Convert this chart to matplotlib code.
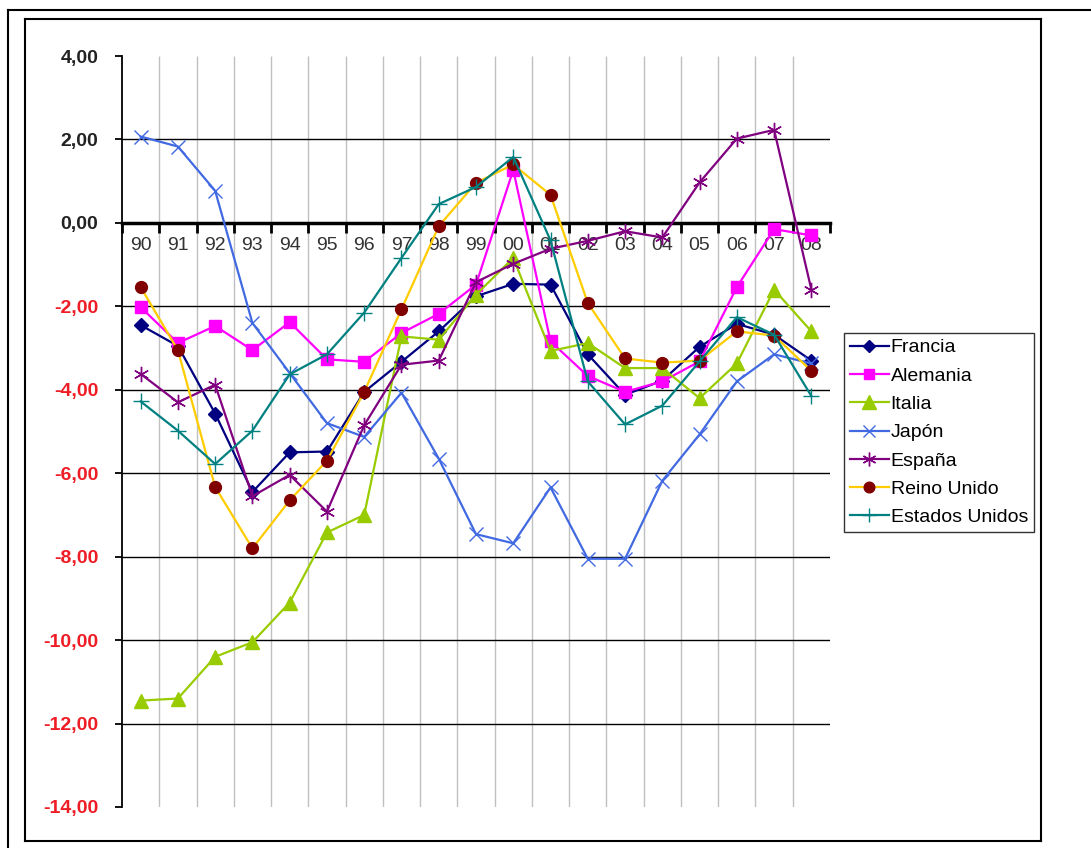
import matplotlib.pyplot as plt
import numpy as np
from matplotlib.lines import Line2D

plt.rcParams['font.family'] = ['Liberation Sans', 'DejaVu Sans']

# data
years = ['90', '91', '92', '93', '94', '95', '96', '97', '98', '99',
         '00', '01', '02', '03', '04', '05', '06', '07', '08']

francia = [-2.45, -2.95, -4.57, -6.45, -5.5, -5.48, -4.05, -3.33, -2.6, -1.76,
           -1.46, -1.48, -3.15, -4.12, -3.78, -2.97, -2.42, -2.68, -3.3]
alemania = [-2.02, -2.88, -2.47, -3.05, -2.38, -3.27, -3.33, -2.64, -2.18, -1.48,
            1.27, -2.84, -3.67, -4.05, -3.8, -3.32, -1.54, -0.15, -0.3]
italia = [-11.45, -11.4, -10.4, -10.05, -9.1, -7.42, -7.0, -2.72, -2.8, -1.72,
          -0.84, -3.07, -2.88, -3.48, -3.48, -4.2, -3.37, -1.6, -2.6]
japon = [2.07, 1.83, 0.77, -2.4, -3.6, -4.8, -5.13, -4.07, -5.65, -7.46,
         -7.68, -6.34, -8.05, -8.05, -6.18, -5.07, -3.8, -3.15, -3.37]
espana = [-3.62, -4.3, -3.88, -6.55, -6.04, -6.92, -4.85, -3.4, -3.3, -1.42,
          -0.98, -0.62, -0.43, -0.2, -0.35, 0.97, 2.02, 2.23, -1.6]
reino_unido = [-1.54, -3.05, -6.33, -7.8, -6.65, -5.7, -4.05, -2.07, -0.08, 0.96,
               1.4, 0.67, -1.92, -3.25, -3.35, -3.3, -2.6, -2.7, -3.55]
estados_unidos = [-4.28, -4.98, -5.78, -4.98, -3.63, -3.15, -2.15, -0.84, 0.45, 0.86,
                  1.58, -0.42, -3.8, -4.83, -4.38, -3.32, -2.26, -2.68, -4.15]

series = [
    ('Francia', francia, '#000080', 'D', '#000080', 7),
    ('Alemania', alemania, '#ff00ff', 's', '#ff00ff', 8.5),
    ('Italia', italia, '#99cc00', '^', '#99cc00', 10.5),
    ('Japón', japon, '#4169e1', 'x', '#4169e1', 10),
    ('España', espana, '#800080', (6, 2, 0), '#800080', 11),
    ('Reino Unido', reino_unido, '#ffcc00', 'o', '#800000', 8.5),
    ('Estados Unidos', estados_unidos, '#008080', '+', '#008080', 11),
]

yticks = [4, 2, 0, -2, -4, -6, -8, -10, -12, -14]

W, H = 1091, 848
fig = plt.figure(figsize=(W / 100, H / 100), dpi=100)
fig.patch.set_facecolor('white')

# frame lines around the chart
def px_line(x0, y0, x1, y1, lw):
    fig.add_artist(Line2D([x0 / W, x1 / W], [1 - y0 / H, 1 - y1 / H],
                          transform=fig.transFigure, color='black', lw=lw))

px_line(8, 10, 1091, 10, 1.5)
px_line(8, 10, 8, 848, 1.5)
px_line(25, 19, 1041, 19, 1.5)
px_line(25, 19, 25, 841, 1.5)
px_line(1041, 19, 1041, 841, 1.5)
px_line(25, 841, 1041, 841, 1.5)

ax = fig.add_axes([122 / W, 1 - 807 / H, 708 / W, 751 / H])
ax.set_xlim(0, 19)
ax.set_ylim(-14, 4)

# grid
ax.vlines(np.arange(1, 19), -14, 4, color='#c0c0c0', lw=1.0, zorder=0)
ax.hlines([t for t in yticks if t not in (4, -14, 0)], 0, 19, color='black', lw=1.0, zorder=0)

x = np.arange(len(years)) + 0.5
for name, vals, lc, mk, mc, ms in series:
    ax.plot(x, vals, color=lc, lw=1.6, marker=mk, markersize=ms,
            markerfacecolor=mc, markeredgecolor=mc, markeredgewidth=1.0,
            label=name, zorder=3)

for s in ['top', 'right']:
    ax.spines[s].set_visible(False)
ax.spines['left'].set_linewidth(1.3)
ax.spines['bottom'].set_position(('data', 0))
ax.spines['bottom'].set_linewidth(2.5)

ax.set_xticks(np.arange(0, 20))
ax.set_xticklabels([])
ax.tick_params(axis='x', which='major', length=7, width=2, direction='out')
ax.set_xticks(x, minor=True)
ax.set_xticklabels(years, minor=True, fontsize=14, color='#333333')
ax.tick_params(axis='x', which='minor', length=0, pad=10)

ax.set_yticks(yticks)
ax.set_yticklabels([('%.2f' % t).replace('.', ',') for t in yticks],
                   fontsize=14, fontweight='bold')
ax.tick_params(axis='y', length=5, width=1.3, direction='out', pad=12)
for t, lab in zip(yticks, ax.get_yticklabels()):
    lab.set_color('#ee1c25' if t < 0 else '#222222')

leg = ax.legend(loc='upper left', bbox_to_anchor=(844 / W, 1 - 333 / H),
                bbox_transform=fig.transFigure, fontsize=14, frameon=True,
                fancybox=False, edgecolor='black', borderaxespad=0,
                handlelength=2.0, handletextpad=0.1, labelspacing=0.55,
                borderpad=0.3, markerscale=0.9)
leg.get_frame().set_linewidth(1.0)

fig.savefig('out.png', dpi=100, facecolor='white')
